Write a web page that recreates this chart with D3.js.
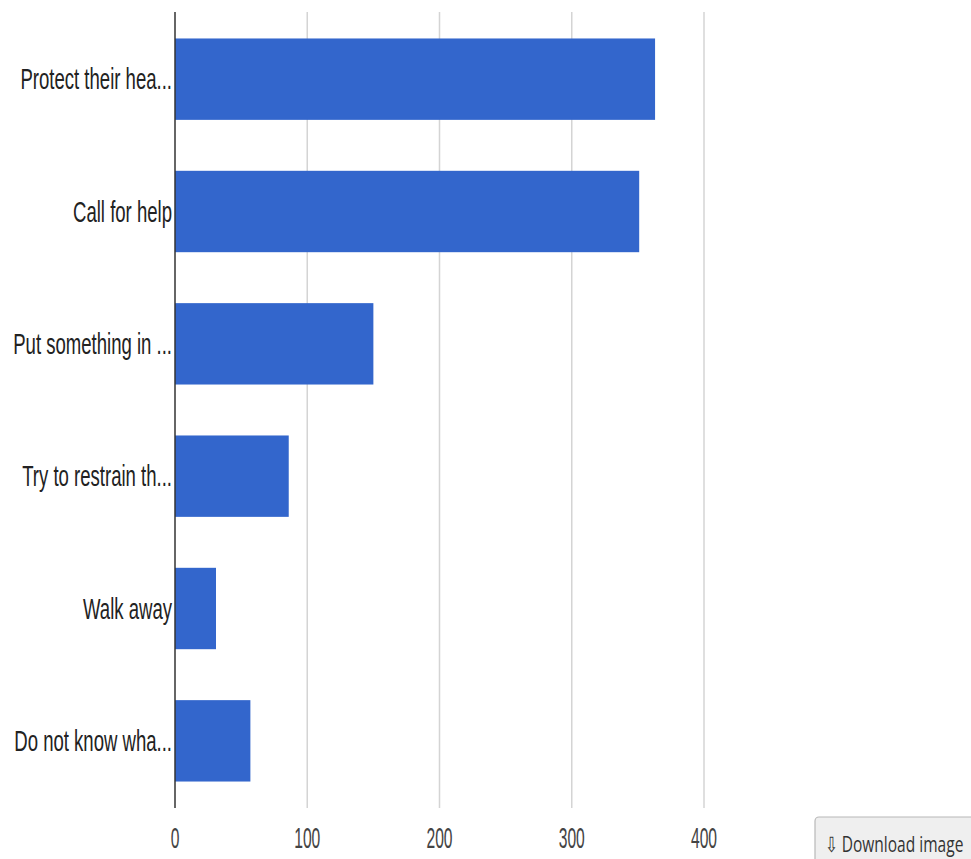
<!DOCTYPE html>
<html>
<head>
<meta charset="utf-8">
<script src="https://cdn.jsdelivr.net/npm/d3@7"></script>
<style>
  html, body { margin: 0; padding: 0; background: #fff; }
  svg { display: block; }
</style>
</head>
<body>
<svg id="chart" width="971" height="859"></svg>
<script>
// Responses to "What would you do if someone is having a seizure?"
const categories = [
  "Protect their hea...",
  "Call for help",
  "Put something in ...",
  "Try to restrain th...",
  "Walk away",
  "Do not know wha..."
];
const counts = [363, 351, 150, 86, 31, 57];
const tickValues = [0, 100, 200, 300, 400];

const svg = d3.select("#chart");
const plot = { left: 175, right: 704, top: 12, bottom: 808 };

const x = d3.scaleLinear().domain([0, 400]).range([plot.left, plot.right]);
const y = d3.scaleBand().domain(categories).range([plot.top, plot.bottom])
  .paddingInner(0.385).paddingOuter(0.2);

// vertical gridlines
svg.append("g").selectAll("line").data(tickValues.filter(d => d > 0)).join("line")
  .attr("x1", d => x(d)).attr("x2", d => x(d))
  .attr("y1", plot.top).attr("y2", plot.bottom)
  .attr("stroke", "#d4d4d4").attr("stroke-width", 1.5);

// bars
svg.append("g").selectAll("rect").data(categories).join("rect")
  .attr("x", x(0))
  .attr("y", d => y(d))
  .attr("width", (d, i) => x(counts[i]) - x(0))
  .attr("height", y.bandwidth())
  .attr("fill", "#3366cc");

// baseline axis
svg.append("line")
  .attr("x1", x(0)).attr("x2", x(0))
  .attr("y1", plot.top).attr("y2", plot.bottom)
  .attr("stroke", "#333").attr("stroke-width", 1.5);

// category labels (narrow rendering)
const labelFont = "'Liberation Sans', Arial, sans-serif";
svg.append("g").selectAll("text").data(categories).join("text")
  .attr("transform", d => `translate(${plot.left - 3},${y(d) + y.bandwidth() / 2}) scale(0.64,1)`)
  .attr("text-anchor", "end")
  .attr("dominant-baseline", "central")
  .attr("font-family", labelFont)
  .attr("font-size", 29)
  .attr("fill", "#222")
  .text(d => d);

// x tick labels
svg.append("g").selectAll("text").data(tickValues).join("text")
  .attr("transform", d => `translate(${x(d)},848) scale(0.54,1)`)
  .attr("text-anchor", "middle")
  .attr("font-family", labelFont)
  .attr("font-size", 29)
  .attr("fill", "#444")
  .text(d => d3.format("d")(d));

// download button
const btn = svg.append("g");
btn.append("rect")
  .attr("x", 815).attr("y", 817).attr("width", 170).attr("height", 60)
  .attr("rx", 4)
  .attr("fill", "#efefef").attr("stroke", "#b8b8b8").attr("stroke-width", 1.2);
btn.append("text")
  .attr("transform", "translate(825,852) scale(0.74,1)")
  .attr("font-family", "'Open Sans', sans-serif")
  .attr("font-size", 21)
  .attr("fill", "#333")
  .text("\u21E9 Download image");
</script>
</body>
</html>
